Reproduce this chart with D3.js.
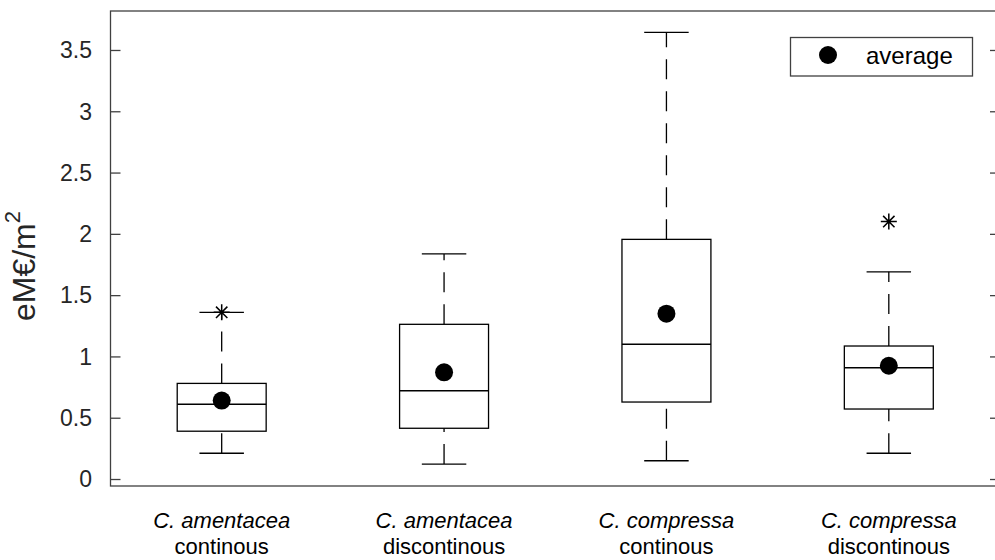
<!DOCTYPE html>
<html lang="en">
<head>
  <meta charset="UTF-8">
  <title>eM€/m² box plot</title>
  <style>
    body {
      margin: 0;
      background: #fff;
      font-family: "Liberation Sans", Arial, sans-serif;
    }
  </style>
</head>
<body>
  <div id="chart"></div>

  <script src="https://d3js.org/d3.v7.min.js"></script>
  <script>
    // Data
    const species = ['C. amentacea', 'C. amentacea', 'C. compressa', 'C. compressa'];
    const habitat = ['continous', 'discontinous', 'continous', 'discontinous'];
    const whiskerLow = [0.21, 0.122, 0.149, 0.21];
    const q1 = [0.39, 0.414, 0.628, 0.571];
    const median = [0.61, 0.72, 1.099, 0.908];
    const q3 = [0.78, 1.262, 1.955, 1.085];
    const whiskerHigh = [1.36, 1.836, 3.644, 1.69];
    const means = [0.64, 0.87, 1.349, 0.924];
    const outliers = [[1.36], [], [], [2.10]];
    const yTicks = [0, 0.5, 1, 1.5, 2, 2.5, 3, 3.5];

    const width = 995;
    const height = 560;

    const svg = d3.select('#chart')
      .append('svg')
      .attr('width', width)
      .attr('height', height);

    // scales
    const x = d3.scaleLinear().domain([0.5, 4.5]).range([110.5, 1000]);
    const y = d3.scaleLinear().domain([-0.057, 3.818]).range([486, 11]);

    const axisColor = '#404040';

    // frame
    svg.append('rect')
      .attr('x', x(0.5))
      .attr('y', y(3.818))
      .attr('width', x(4.5) - x(0.5))
      .attr('height', y(-0.057) - y(3.818))
      .attr('fill', 'none')
      .attr('stroke', axisColor)
      .attr('stroke-width', 1.3);

    // y ticks (left, inward) + mirrored on the right
    svg.append('g')
      .attr('transform', `translate(${x(0.5)},0)`)
      .call(d3.axisRight(y).tickValues(yTicks).tickSize(10).tickFormat(''))
      .call(g => g.select('.domain').remove())
      .call(g => g.selectAll('line').attr('stroke', axisColor).attr('stroke-width', 1.3));

    svg.append('g')
      .attr('transform', `translate(${x(4.5)},0)`)
      .call(d3.axisLeft(y).tickValues(yTicks).tickSize(10).tickFormat(''))
      .call(g => g.select('.domain').remove())
      .call(g => g.selectAll('line').attr('stroke', axisColor).attr('stroke-width', 1.3));

    // tick labels
    svg.append('g')
      .selectAll('text')
      .data(yTicks)
      .join('text')
      .attr('x', 92)
      .attr('y', d => y(d))
      .attr('dy', '0.36em')
      .attr('text-anchor', 'end')
      .attr('font-size', 23)
      .attr('fill', '#262626')
      .text(d => d);

    // y label
    const yl = svg.append('text')
      .attr('transform', 'translate(35,266) rotate(-90)')
      .attr('text-anchor', 'middle')
      .attr('font-size', 32)
      .attr('fill', '#262626');
    yl.append('tspan').text('eM€/m');
    yl.append('tspan').attr('dy', -15).attr('font-size', 22).text('2');

    // category labels, two lines each
    const catG = svg.append('g')
      .attr('font-size', 22)
      .attr('fill', '#000')
      .attr('text-anchor', 'middle');

    catG.selectAll('.sp')
      .data(species)
      .join('text')
      .attr('x', (d, i) => x(i + 1))
      .attr('y', 528)
      .attr('font-style', 'italic')
      .text(d => d);

    catG.selectAll('.hab')
      .data(habitat)
      .join('text')
      .attr('x', (d, i) => x(i + 1))
      .attr('y', 554)
      .text(d => d);

    // boxes
    const boxW = 0.4;
    const capW = 0.2;
    const idx = d3.range(species.length);
    const boxes = svg.append('g');

    // whiskers (dashed, drawn from lower value upward)
    boxes.selectAll('.wlow')
      .data(idx)
      .join('line')
      .attr('x1', i => x(i + 1)).attr('x2', i => x(i + 1))
      .attr('y1', i => y(whiskerLow[i])).attr('y2', i => y(q1[i]))
      .attr('stroke', '#000').attr('stroke-width', 1.3)
      .attr('stroke-dasharray', '20,12');

    boxes.selectAll('.whigh')
      .data(idx)
      .join('line')
      .attr('x1', i => x(i + 1)).attr('x2', i => x(i + 1))
      .attr('y1', i => y(q3[i])).attr('y2', i => y(whiskerHigh[i]))
      .attr('stroke', '#000').attr('stroke-width', 1.3)
      .attr('stroke-dasharray', '20,12');

    // caps
    boxes.selectAll('.caplow')
      .data(idx)
      .join('line')
      .attr('x1', i => x(i + 1 - capW / 2)).attr('x2', i => x(i + 1 + capW / 2))
      .attr('y1', i => y(whiskerLow[i])).attr('y2', i => y(whiskerLow[i]))
      .attr('stroke', '#000').attr('stroke-width', 1.3);

    boxes.selectAll('.caphigh')
      .data(idx)
      .join('line')
      .attr('x1', i => x(i + 1 - capW / 2)).attr('x2', i => x(i + 1 + capW / 2))
      .attr('y1', i => y(whiskerHigh[i])).attr('y2', i => y(whiskerHigh[i]))
      .attr('stroke', '#000').attr('stroke-width', 1.3);

    // box
    boxes.selectAll('rect')
      .data(idx)
      .join('rect')
      .attr('x', i => x(i + 1 - boxW / 2))
      .attr('width', x(1 + boxW / 2) - x(1 - boxW / 2))
      .attr('y', i => y(q3[i]))
      .attr('height', i => y(q1[i]) - y(q3[i]))
      .attr('fill', 'none')
      .attr('stroke', '#000')
      .attr('stroke-width', 1.3);

    // median
    boxes.selectAll('.med')
      .data(idx)
      .join('line')
      .attr('x1', i => x(i + 1 - boxW / 2)).attr('x2', i => x(i + 1 + boxW / 2))
      .attr('y1', i => y(median[i])).attr('y2', i => y(median[i]))
      .attr('stroke', '#000').attr('stroke-width', 1.5);

    // outliers as asterisks
    const star = 'M0,-8V8M-8,0H8M-5.7,-5.7L5.7,5.7M-5.7,5.7L5.7,-5.7';
    const outPts = outliers.flatMap((vals, i) => vals.map(v => ({ i, v })));
    boxes.selectAll('.out')
      .data(outPts)
      .join('path')
      .attr('transform', d => `translate(${x(d.i + 1)},${y(d.v)})`)
      .attr('d', star)
      .attr('stroke', '#000')
      .attr('stroke-width', 1.5)
      .attr('fill', 'none');

    // averages
    boxes.selectAll('circle')
      .data(idx)
      .join('circle')
      .attr('cx', i => x(i + 1))
      .attr('cy', i => y(means[i]))
      .attr('r', 9)
      .attr('fill', '#000');

    // legend
    const legend = svg.append('g');
    legend.append('rect')
      .attr('x', 790.5).attr('y', 37.5)
      .attr('width', 182).attr('height', 38.5)
      .attr('fill', '#fff')
      .attr('stroke', axisColor)
      .attr('stroke-width', 1.3);
    legend.append('circle')
      .attr('cx', 828).attr('cy', 55)
      .attr('r', 9)
      .attr('fill', '#000');
    legend.append('text')
      .attr('x', 866).attr('y', 64)
      .attr('font-size', 24)
      .attr('fill', '#000')
      .text('average');
  </script>
</body>
</html>
